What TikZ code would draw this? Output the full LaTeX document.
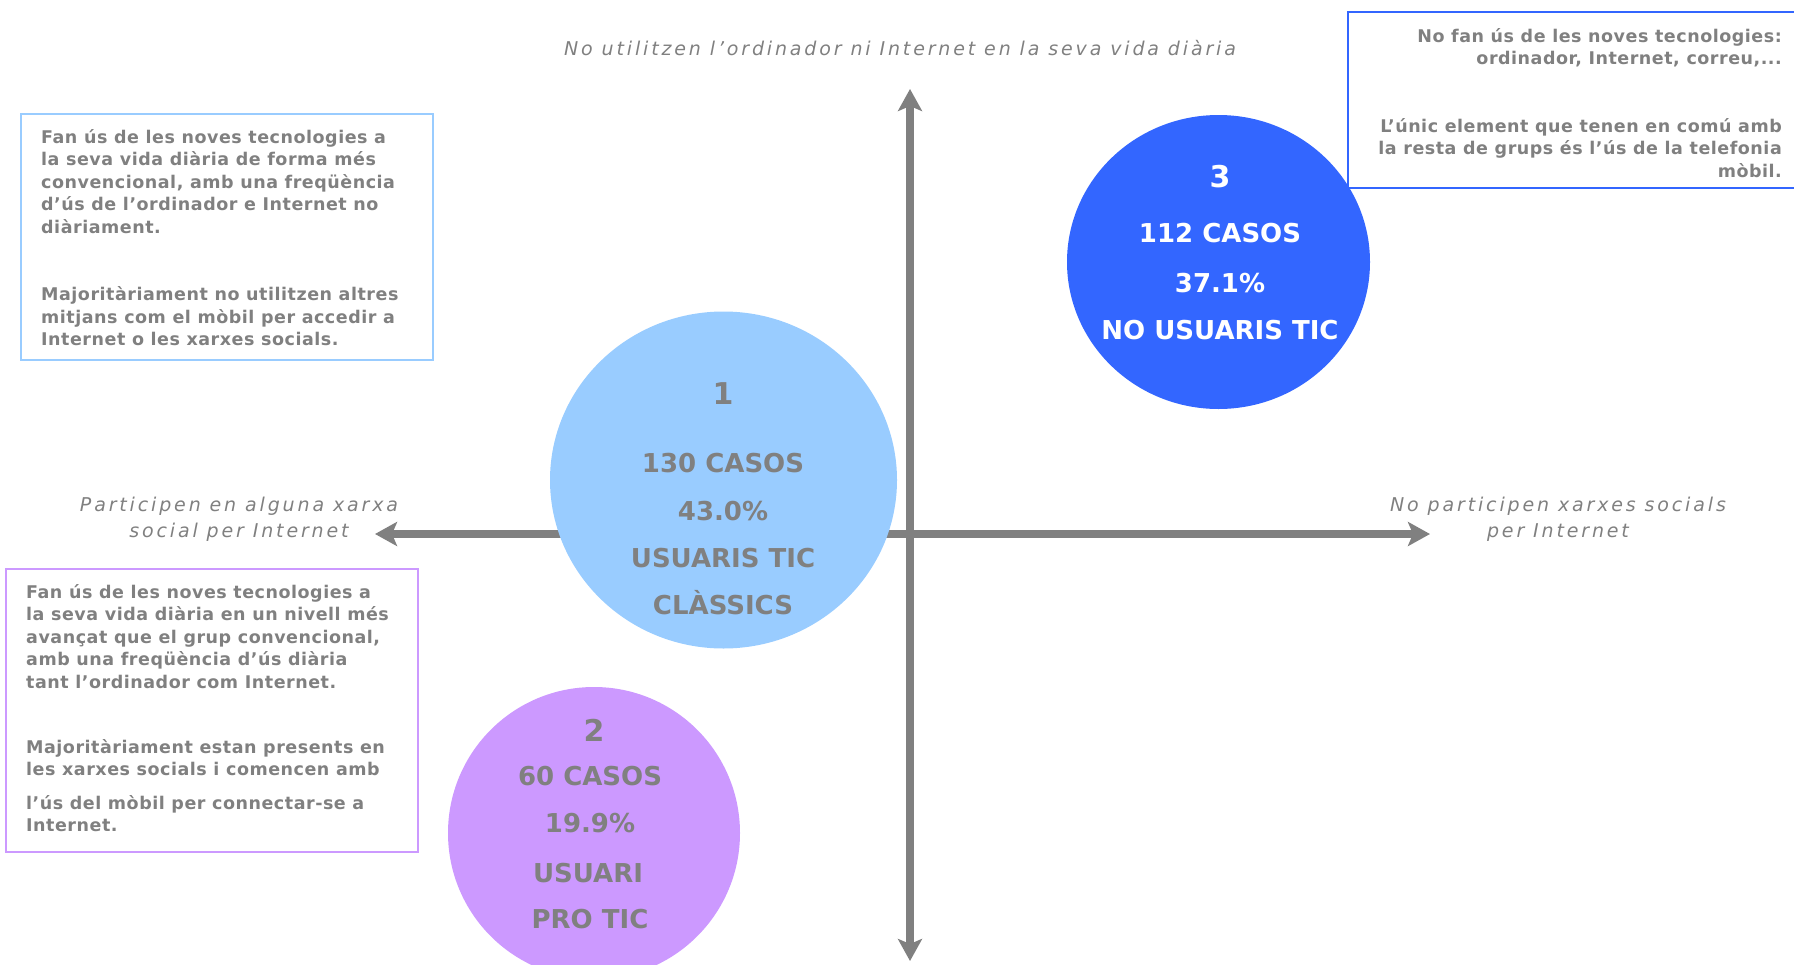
\documentclass[tikz,border=0pt]{standalone}
\usepackage{fontspec}
\setmainfont{DejaVu Sans}
\newfontfamily\boxfont[LetterSpace=3]{DejaVu Sans}
\newfontfamily\labelfont[LetterSpace=15]{DejaVu Sans}
\usepackage{tikz}
\usepackage{xcolor}
\definecolor{TicGray}{HTML}{808080}
\definecolor{TicLight}{HTML}{99CCFF}
\definecolor{TicPurple}{HTML}{CC99FF}
\definecolor{TicBlue}{HTML}{3366FF}
\usetikzlibrary{positioning,shapes.geometric,arrows.meta}

\begin{document}
\begin{tikzpicture}[x=1pt,y=-1pt,
  quadaxis/.style={TicGray, line width=8pt,
    {Stealth[length=22pt,width=24pt,inset=5pt]}-{Stealth[length=22pt,width=24pt,inset=5pt]}},
  descbox/.style={rectangle, line width=2pt, inner sep=0pt},
  grp/.style={ellipse, inner sep=0pt},
  casetext/.style={font=\fontsize{26}{30}\selectfont\bfseries, text=TicGray, inner sep=0pt, text height=19pt, text depth=0pt},
  casenum/.style={casetext, font=\fontsize{30}{34}\selectfont\bfseries, text height=22pt},
  desc/.style={font=\boxfont\fontsize{17.5}{22.5}\selectfont\bfseries, text=TicGray, inner sep=0pt},
  axislabel/.style={font=\labelfont\fontsize{19}{26}\selectfont\itshape, text=TicGray, align=center, inner sep=0pt}]
  \useasboundingbox (0,0) rectangle (1794,964);
  \clip (0,0) rectangle (1794,964);
  % axes
  \coordinate (axN) at (910,89);
  \coordinate (axS) at (910,961);
  \coordinate (axW) at (375,534);
  \coordinate (axE) at (1430,534);
  \draw[quadaxis] (axW) -- (axE);
  \draw[quadaxis] (axN) -- (axS);
  % description boxes
  \node[descbox, draw=TicLight, minimum width=412pt, minimum height=246pt] (box1) at (227,237) {};
  \node[descbox, draw=TicPurple, minimum width=412pt, minimum height=283pt] (box2) at (212,710.5) {};
  \node[descbox, draw=TicBlue, line width=1.5pt, minimum width=452pt, minimum height=176pt] (box3) at (1574,100) {};
  % groups
  \node[grp, fill=TicLight, minimum width=347pt, minimum height=337pt] (grp1) at (723.5,480) {};
  \node[grp, fill=TicPurple, minimum width=292pt, minimum height=292pt] (grp2) at (594,833) {};
  \node[grp, fill=TicBlue, minimum width=303pt, minimum height=294pt] (grp3) at (1218.5,262) {};
  % group 1
  \node[casenum] (n1) at (723,393) {1};
  \node[casetext] (n1a) at (723,463) {130 CASOS};
  \node[casetext] (n1b) at (723,511) {43.0\%};
  \node[casetext] (n1c) at (723,558) {USUARIS TIC};
  \node[casetext] (n1d) at (723,605) {CLÀSSICS};
  % group 2
  \node[casenum] (n2) at (594,730) {2};
  \node[casetext] (n2a) at (590,776) {60 CASOS};
  \node[casetext] (n2b) at (590,823) {19.9\%};
  \node[casetext] (n2c) at (588,873) {USUARI};
  \node[casetext] (n2d) at (590,919) {PRO TIC};
  % group 3
  \node[casenum, text=white] (n3) at (1220,176) {3};
  \node[casetext, text=white] (n3a) at (1220,233) {112 CASOS};
  \node[casetext, text=white] (n3b) at (1220,283) {37.1\%};
  \node[casetext, text=white] (n3c) at (1220,330) {NO USUARIS TIC};
  % descriptions (anchored on the last line)
  \node[desc, align=left, anchor=base west] (d1) at (41,345.5) {Fan ús de les noves tecnologies a\\
    la seva vida diària de forma més\\
    convencional, amb una freqüència\\
    d’ús de l’ordinador e Internet no\\
    diàriament.\\[45pt]
    Majoritàriament no utilitzen altres\\
    mitjans com el mòbil per accedir a\\
    Internet o les xarxes socials.};
  \node[desc, align=left, anchor=base west] (d2) at (26,831.5) {Fan ús de les noves tecnologies a\\
    la seva vida diària en un nivell més\\
    avançat que el grup convencional,\\
    amb una freqüència d’ús diària\\
    tant l’ordinador com Internet.\\[42.5pt]
    Majoritàriament estan presents en\\
    les xarxes socials i comencen amb\\[11pt]
    l’ús del mòbil per connectar-se a\\
    Internet.};
  \node[desc, align=right, anchor=base east] (d3) at (1782,177) {No fan ús de les noves tecnologies:\\
    ordinador, Internet, correu,...\\[45pt]
    L’únic element que tenen en comú amb\\
    la resta de grups és l’ús de la telefonia\\
    mòbil.};
  % axis labels
  \node[axislabel, anchor=base] (ltop) at (900,55) {No utilitzen l’ordinador ni Internet en la seva vida diària};
  \node[axislabel, anchor=base] (lleft) at (239,537) {Participen en alguna xarxa\\ social per Internet};
  \node[axislabel, anchor=base] (lright) at (1558,537) {No participen xarxes socials\\ per Internet};
\end{tikzpicture}
\end{document}
